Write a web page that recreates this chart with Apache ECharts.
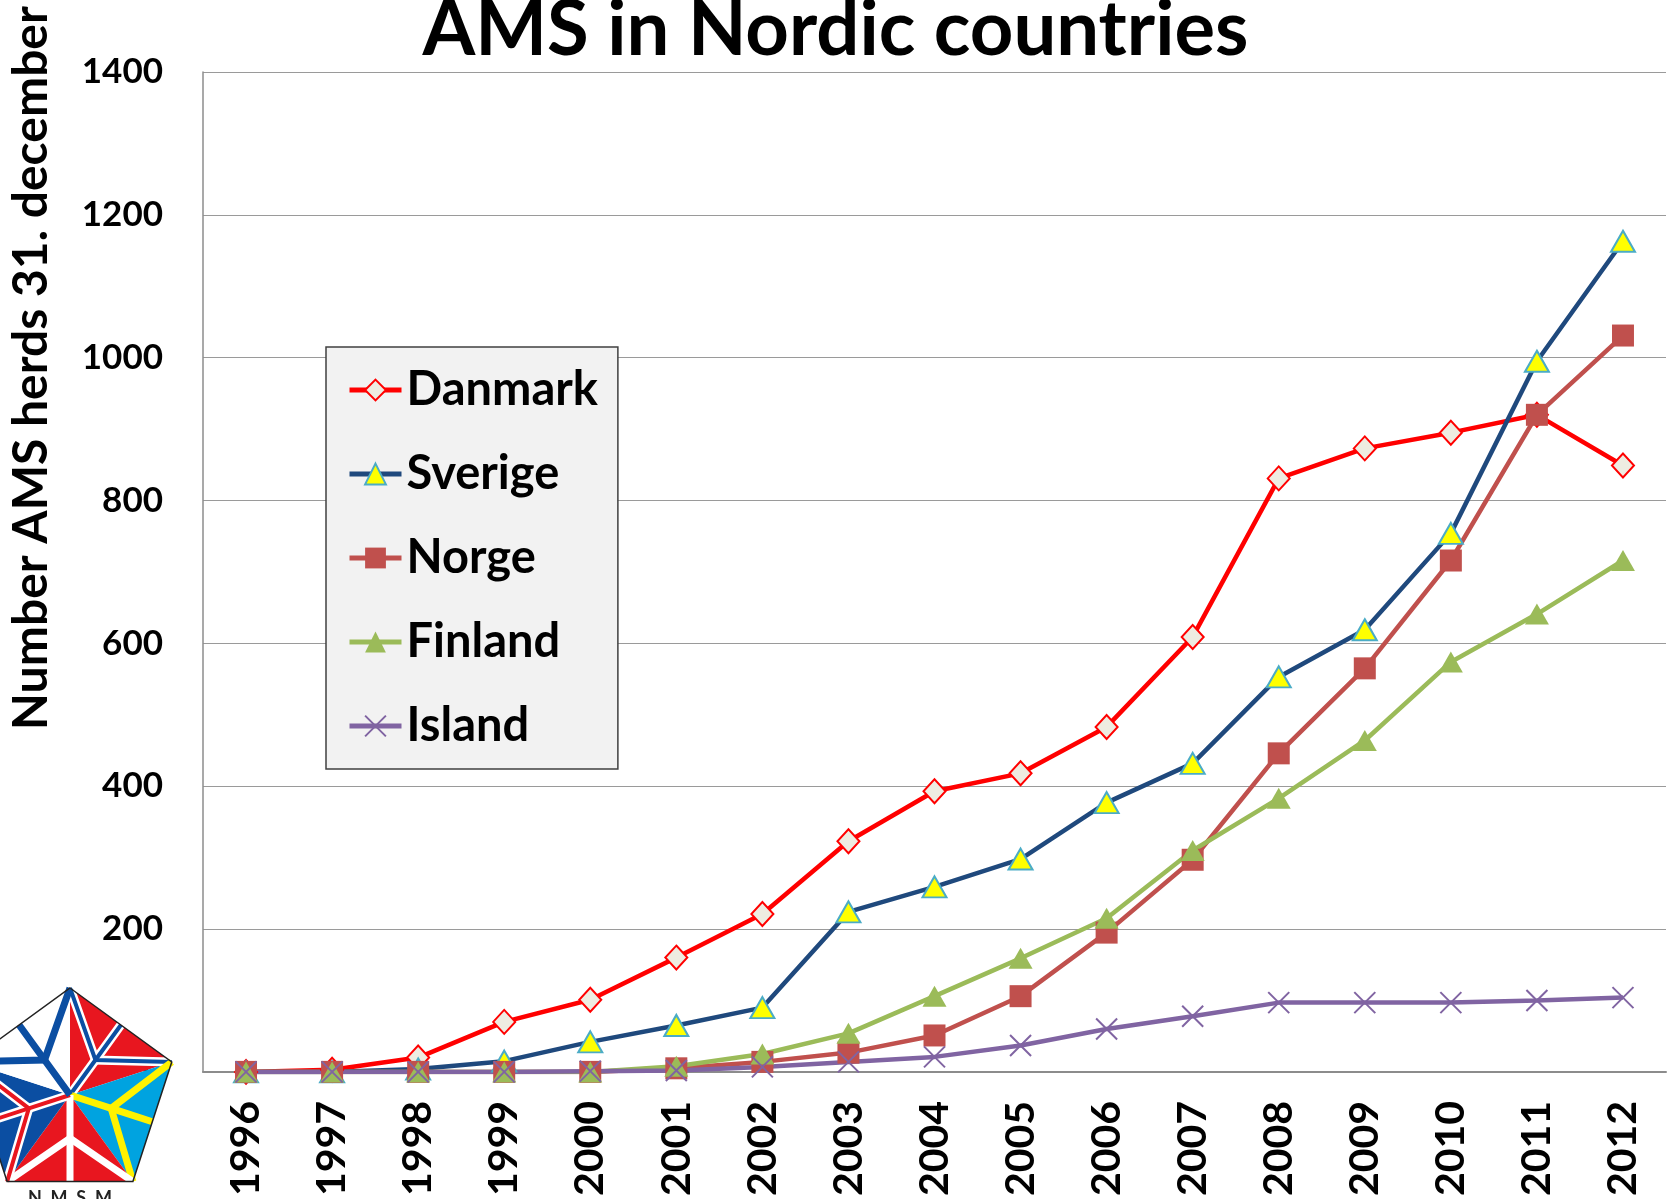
<!DOCTYPE html>
<html>
<head>
<meta charset="utf-8">
<title>AMS in Nordic countries</title>
<script src="https://cdn.jsdelivr.net/npm/echarts@6/dist/echarts.min.js"></script>
<style>
  html, body { margin: 0; padding: 0; background: #fff; }
  #chart { width: 1671px; height: 1199px; }
</style>
</head>
<body>
<div id="chart"></div>
<script>
// data (herds with AMS at 31. december)
const years = ['1996', '1997', '1998', '1999', '2000', '2001', '2002', '2003', '2004',
  '2005', '2006', '2007', '2008', '2009', '2010', '2011', '2012'];
const danmark = [0, 3, 20, 70, 101, 160, 221, 323, 393, 418, 483, 609, 831, 873, 895, 920, 849];
const sverige = [0, 0, 4, 15, 42, 65, 90, 224, 259, 298, 377, 432, 553, 619, 754, 995, 1163];
const norge = [0, 0, 0, 0, 0, 5, 14, 27, 51, 106, 195, 297, 446, 565, 716, 920, 1031];
const finland = [0, 0, 0, 0, 0, 8, 25, 54, 106, 159, 215, 310, 383, 464, 574, 641, 716];
const island = [0, 0, 0, 0, 1, 2, 7, 14, 21, 37, 60, 78, 97, 97, 97, 100, 104];

const yMin = 0, yMax = 1400, yStep = 200;
const titleText = 'AMS in Nordic countries';
const yName = 'Number AMS herds 31. december';

const FONT = 'Lato, "Open Sans", sans-serif';
const CROSS = 'path://M0,0L10,10M10,0L0,10';
const LINE_W = 4.5;

function makeSeries (name, data, lineColor, symbol, size, fill, border, borderWidth) {
    return {
        name: name,
        type: 'line',
        data: data,
        symbol: symbol,
        symbolSize: size,
        lineStyle: { color: lineColor, width: LINE_W },
        itemStyle: { color: fill, borderColor: border, borderWidth: borderWidth },
        emphasis: { disabled: true }
    };
}

// NMSM logo in the lower left corner: a pentagon cut into five flag sectors
function logoGraphics () {
    const cx = 70, cy = 1095, r = 107;
    const pts = [];
    for (let i = 0; i < 5; i++) {
        const a = (-90 + 72 * i) * Math.PI / 180;
        pts.push([cx + r * Math.cos(a), cy + r * Math.sin(a)]);
    }
    const red = '#e8161f', blue = '#0b4ea2';
    const flags = [
        { fill: red, cross: blue, edge: '#fff' },   // norge
        { fill: '#00a3e0', cross: '#fff200' },      // sverige
        { fill: red, cross: '#fff' },               // danmark
        { fill: blue, cross: red, edge: '#fff' },   // island
        { fill: '#fff', cross: blue }               // finland
    ];
    const fills = [], crosses = [];
    flags.forEach(function (f, i) {
        const A = pts[i], B = pts[(i + 1) % 5];
        const M = [(A[0] + B[0]) / 2, (A[1] + B[1]) / 2];
        const J = [(cx + M[0]) / 2, (cy + M[1]) / 2];
        fills.push({ type: 'polygon', z: 100, shape: { points: [[cx, cy], A, B] }, style: { fill: f.fill }, silent: true });
        const lines = [[A, J, B], [[cx, cy], J, M]];
        lines.forEach(function (p) {
            if (f.edge) {
                crosses.push({ type: 'polyline', z: 101, shape: { points: p }, style: { stroke: f.edge, lineWidth: 9, fill: null }, silent: true });
                crosses.push({ type: 'polyline', z: 102, shape: { points: p }, style: { stroke: f.cross, lineWidth: 4, fill: null }, silent: true });
            } else {
                crosses.push({ type: 'polyline', z: 102, shape: { points: p }, style: { stroke: f.cross, lineWidth: 7, fill: null }, silent: true });
            }
        });
    });
    const outline = { type: 'polygon', z: 103, shape: { points: pts }, style: { fill: null, stroke: '#222', lineWidth: 1.5 }, silent: true };
    const label = {
        type: 'text', x: 70, y: 1189, z: 103, silent: true,
        style: { text: 'N  M  S  M', fontFamily: FONT, fontSize: 18, fontWeight: 'bold', fill: '#222',
            align: 'center', verticalAlign: 'top', textAlign: 'center', textVerticalAlign: 'top' }
    };
    return fills.concat(crosses, [outline, label]);
}

const chart = echarts.init(document.getElementById('chart'));

const option = {
    animation: false,
    backgroundColor: '#fff',
    title: {
        text: titleText,
        left: 'center',
        top: -13,
        textStyle: { fontFamily: FONT, fontSize: 76, fontWeight: 'bold', color: '#000' }
    },
    legend: {
        orient: 'vertical',
        left: 326,
        top: 347,
        backgroundColor: '#f2f2f2',
        borderColor: '#404040',
        borderWidth: 1.5,
        borderRadius: 0,
        padding: [18, 20, 18, 21],
        itemWidth: 52,
        itemHeight: 26,
        itemGap: 34,
        selectedMode: false,
        lineStyle: { width: 5 },
        textStyle: { fontFamily: FONT, fontSize: 47, fontWeight: 'bold', color: '#000', lineHeight: 50 }
    },
    grid: { left: 203, right: 5, top: 72, bottom: 125, containLabel: false },
    xAxis: {
        type: 'category',
        data: years,
        boundaryGap: true,
        axisLine: { lineStyle: { color: '#8c8c8c', width: 2 } },
        axisTick: { show: false },
        axisLabel: { rotate: 90, margin: 29, fontFamily: FONT, fontSize: 41, fontWeight: 'bold', color: '#000' }
    },
    yAxis: {
        type: 'value',
        min: yMin,
        max: yMax,
        interval: yStep,
        axisLine: { show: true, lineStyle: { color: '#8c8c8c', width: 1.5 } },
        axisTick: { show: false },
        splitLine: { lineStyle: { color: '#9a9a9a', width: 1.2 } },
        axisLabel: {
            margin: 40, fontFamily: FONT, fontSize: 35, fontWeight: 'bold', color: '#000',
            formatter: function (v) { return String(v); }
        }
    },
    graphic: [{
        type: 'text',
        x: 32,
        y: 368,
        rotation: Math.PI / 2,
        silent: true,
        style: {
            text: yName, fontFamily: FONT, fontSize: 48, fontWeight: 'bold', fill: '#000',
            align: 'center', verticalAlign: 'middle', textAlign: 'center', textVerticalAlign: 'middle'
        }
    }].concat(logoGraphics()),
    series: [
        makeSeries('Danmark', danmark, '#ff0000', 'diamond', [22, 24], '#eeece1', '#ff0000', 2),
        makeSeries('Sverige', sverige, '#1f497d', 'triangle', [24, 21], '#ffff00', '#4bacc6', 2),
        makeSeries('Norge', norge, '#c0504d', 'rect', 22, '#c0504d', '#c0504d', 0),
        makeSeries('Finland', finland, '#9bbb59', 'triangle', [24, 21], '#9bbb59', '#9bbb59', 0),
        makeSeries('Island', island, '#8064a2', CROSS, 21, '#8064a2', '#8064a2', 2)
    ]
};

chart.setOption(option);
</script>
</body>
</html>
